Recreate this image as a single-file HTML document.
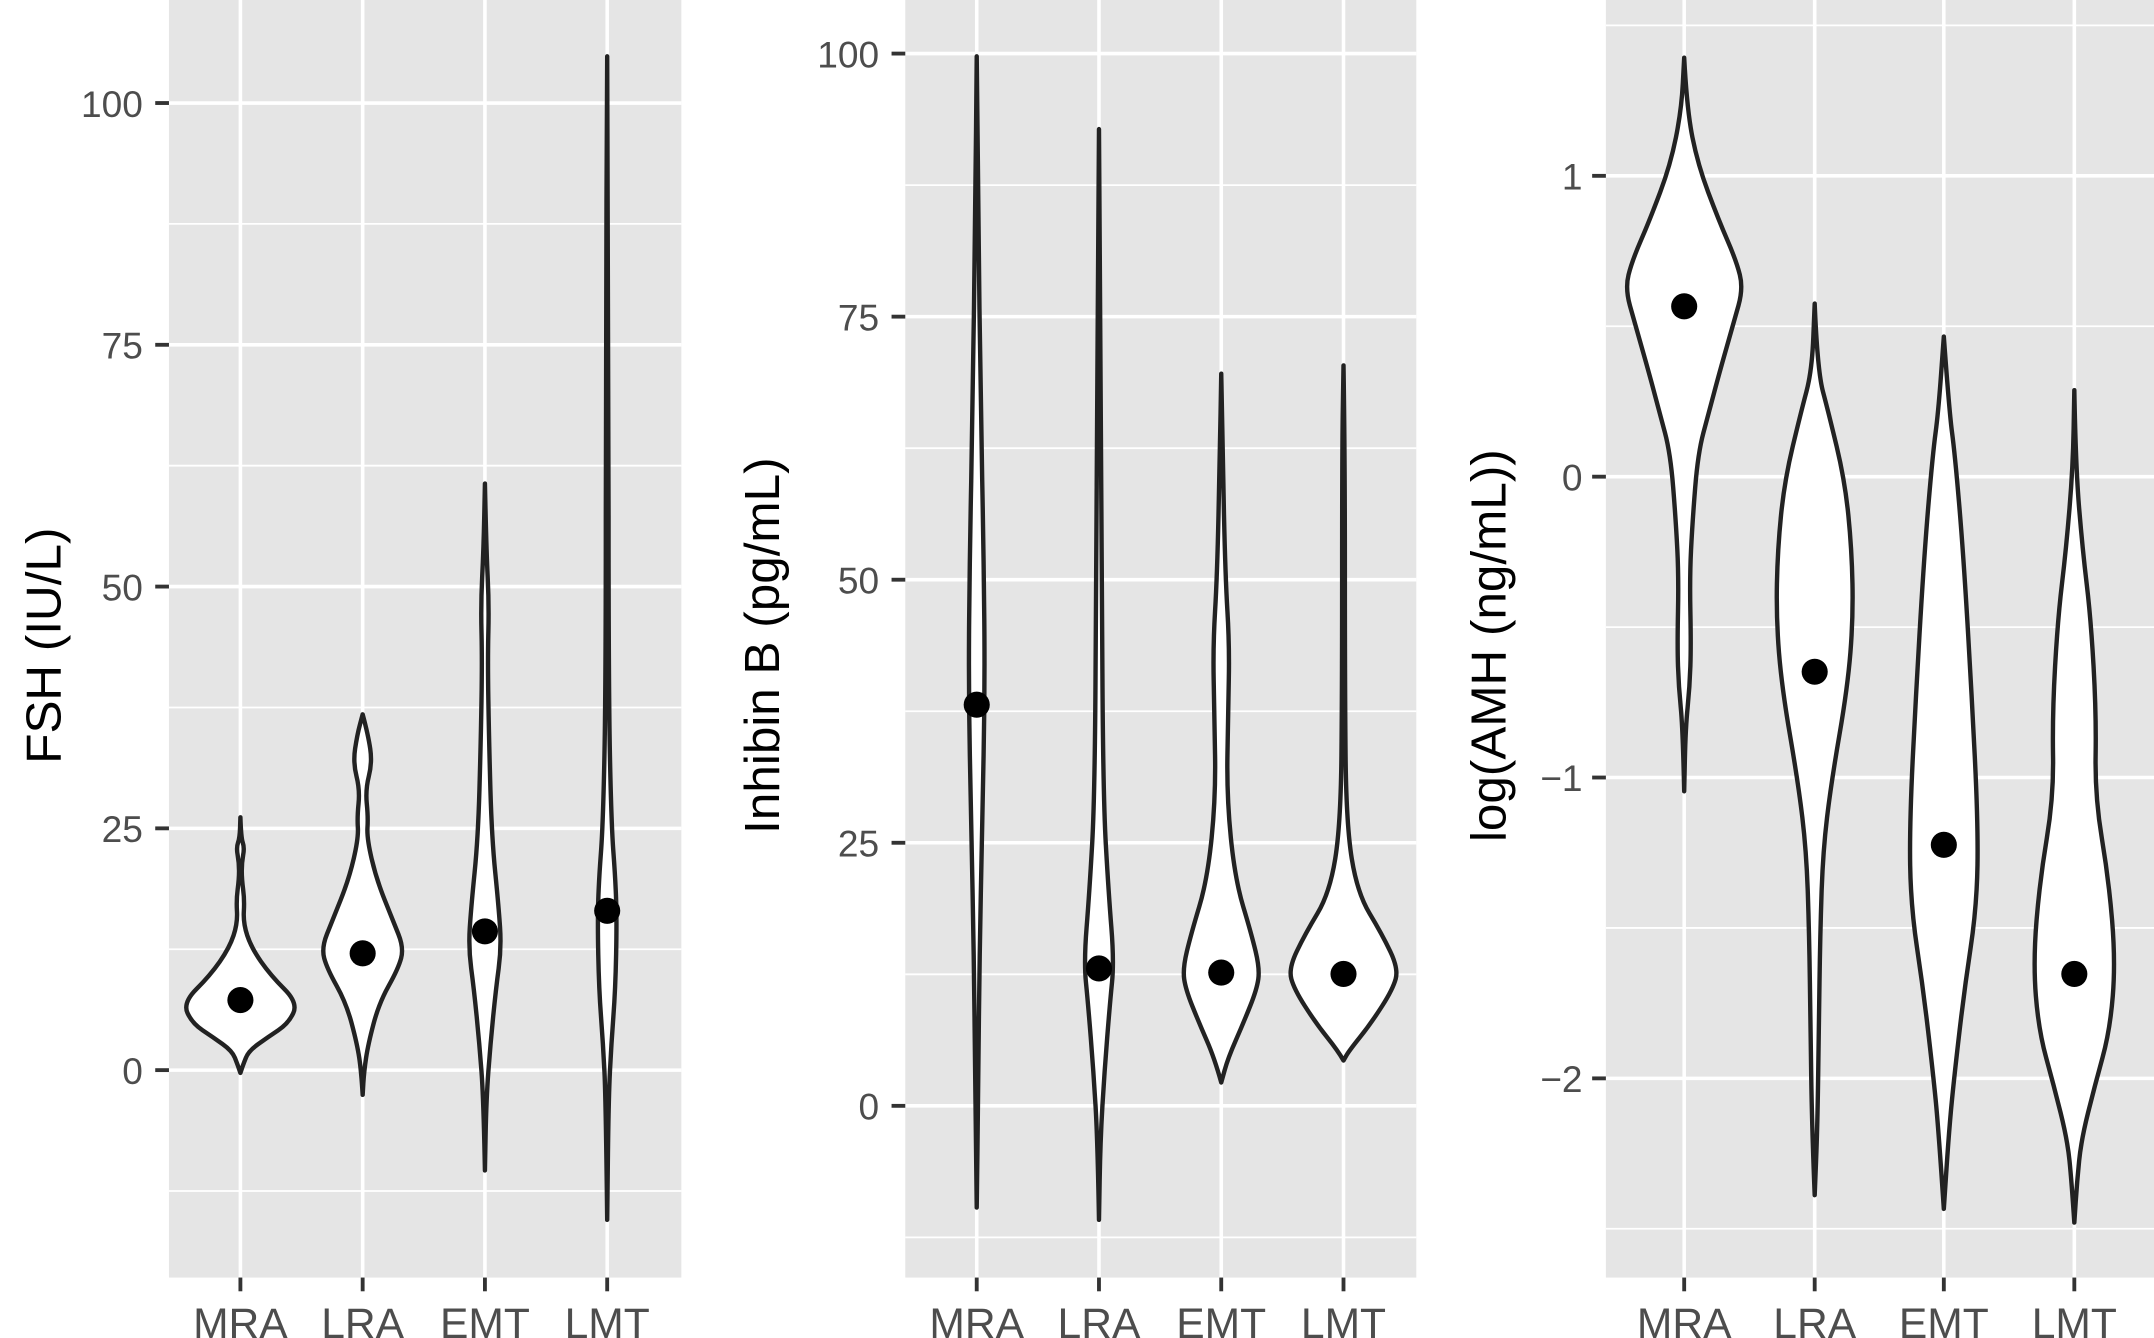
<!DOCTYPE html>
<html><head><meta charset="utf-8"><style>
html,body{margin:0;padding:0;background:#fff;}
svg{display:block;}
text{font-family:"Liberation Sans",sans-serif;}
</style></head><body>
<svg id="s" width="2154" height="1338" viewBox="0 0 1568 974" preserveAspectRatio="none" xmlns="http://www.w3.org/2000/svg">
<rect width="1568" height="974" fill="#fff"/>
<g id="g"></g>
<text transform="translate(44,470) rotate(-90)" text-anchor="middle" font-size="36" fill="#000">FSH (IU/L)</text>
<text transform="translate(567,470) rotate(-90)" text-anchor="middle" font-size="36" fill="#000">Inhibin B (pg/mL)</text>
<text transform="translate(1096,470) rotate(-90)" text-anchor="middle" font-size="36" fill="#000">log(AMH (ng/mL))</text>
</svg>
<script>
const NS="http://www.w3.org/2000/svg";const g=document.getElementById('g');
function el(t,a,txt){const e=document.createElementNS(NS,t);for(const k in a)e.setAttribute(k,a[k]);if(txt!==undefined)e.textContent=txt;g.appendChild(e);return e;}
const panels=[
 {x0:123,x1:496,y0:0,y1:930,ty:v=>779-v*7.04,maj:[0,25,50,75,100],lab:["0","25","50","75","100"],min:[-12.5,12.5,37.5,62.5,87.5],lx:104,cats:[175,264,353,442],
  v:[
   {top:595,p:[[610,0.5],[617,3],[628,1],[640,1],[655,3],[672,2],[690,8],[710,22],[730,42],[745,35],[755,20],[765,6],[775,2],[781,0]],d:728},
   {top:520,p:[[535,4],[555,7],[575,2],[595,4],[610,3],[640,10],[670,22],[690,30],[705,26],[730,12],[760,4],[780,1],[797,0]],d:694},
   {top:352,p:[[400,1],[440,3],[480,2],[540,3],[610,5],[660,10],[690,12],[720,8],[760,4],[800,1],[852,0]],d:678},
   {top:41,p:[[250,1],[500,1],[600,3],[640,6],[670,7],[720,6],[760,3],[800,1],[888,0]],d:663}]},
 {x0:659,x1:1031,y0:0,y1:930,ty:v=>805-v*7.66,maj:[0,25,50,75,100],lab:["0","25","50","75","100"],min:[-12.5,12.5,37.5,62.5,87.5],lx:640,cats:[711,800,889,978],
  v:[
   {top:41,p:[[150,1],[300,3],[400,5],[500,6],[600,4],[700,2],[800,1],[879,0]],d:513},
   {top:94,p:[[400,2],[580,3],[650,7],[700,11],[730,8],[780,4],[830,1],[888,0]],d:705},
   {top:272,p:[[330,1],[420,3],[470,6],[520,5],[580,4],[640,10],[680,22],[705,28],[720,26],[745,16],[770,5],[788,0]],d:708},
   {top:266,p:[[330,1],[500,1],[600,2],[650,10],[680,28],[705,40],[720,36],[745,20],[765,4],[772,0]],d:709}]},
 {x0:1169,x1:1568,y0:0,y1:930,ty:v=>347-v*219,maj:[-2,-1,0,1],lab:["\u22122","\u22121","0","1"],min:[-2.5,-1.5,-0.5,0.5,1.5],lx:1152,cats:[1226,1321,1415,1510],
  v:[
   {top:42,p:[[80,2],[120,10],[160,25],[190,38],[210,43],[235,36],[270,26],[300,18],[330,10],[380,6],[420,4],[470,5],[500,4],[530,1],[576,0]],d:223},
   {top:221,p:[[270,2],[300,10],[350,22],[400,27],[450,28],[500,24],[570,12],[620,6],[680,4],[750,3],[820,2],[870,0]],d:489},
   {top:245,p:[[300,4],[330,8],[400,14],[500,20],[600,25],[660,24],[720,15],[780,8],[820,4],[880,0]],d:615},
   {top:284,p:[[340,1],[400,6],[450,12],[520,16],[580,15],[640,25],[700,30],[750,26],[790,15],[830,5],[860,2],[890,0]],d:709}]}
];
const names=["MRA","LRA","EMT","LMT"];
function smooth(pts){let d="M"+pts[0][0]+","+pts[0][1];for(let i=1;i<pts.length-1;i++){const mx=(pts[i][0]+pts[i+1][0])/2,my=(pts[i][1]+pts[i+1][1])/2;d+=" Q"+pts[i][0]+","+pts[i][1]+" "+mx+","+my;}const l=pts[pts.length-1];d+=" L"+l[0]+","+l[1];return d;}
panels.forEach(P=>{
 el('rect',{x:P.x0,y:P.y0,width:P.x1-P.x0,height:P.y1-P.y0,fill:'#e5e5e5'});
 P.min.forEach(v=>{const y=P.ty(v);if(y>0&&y<P.y1)el('line',{x1:P.x0,x2:P.x1,y1:y,y2:y,stroke:'#fff','stroke-width':1.3});});
 P.maj.forEach((v,i)=>{const y=P.ty(v);el('line',{x1:P.x0,x2:P.x1,y1:y,y2:y,stroke:'#fff','stroke-width':2.6});
  el('line',{x1:P.x0-10,x2:P.x0,y1:y,y2:y,stroke:'#333','stroke-width':2.8});
  el('text',{x:P.lx,y:y+10,'text-anchor':'end','font-size':27,fill:'#4d4d4d'},P.lab[i]);});
 P.cats.forEach((x,i)=>{el('line',{x1:x,x2:x,y1:0,y2:P.y1,stroke:'#fff','stroke-width':2.6});
  el('line',{x1:x,x2:x,y1:P.y1,y2:P.y1+10,stroke:'#333','stroke-width':2.8});
  el('text',{x:x,y:974,'text-anchor':'middle','font-size':31,fill:'#4d4d4d'},names[i]);});
 P.v.forEach((V,i)=>{const cx=P.cats[i];const pr=[[V.top,0]].concat(V.p);
  const right=pr.map(q=>[cx+q[1],q[0]]);const left=pr.slice().reverse().map(q=>[cx-q[1],q[0]]);
  const d=smooth(right)+" "+smooth(left).replace(/^M/,"L")+" Z";
  el('path',{d:d,fill:'#fff',stroke:'#222','stroke-width':3.2,'stroke-linejoin':'round'});
  el('circle',{cx:cx,cy:V.d,r:9.5,fill:'#000'});});
});
</script>
</body></html>
